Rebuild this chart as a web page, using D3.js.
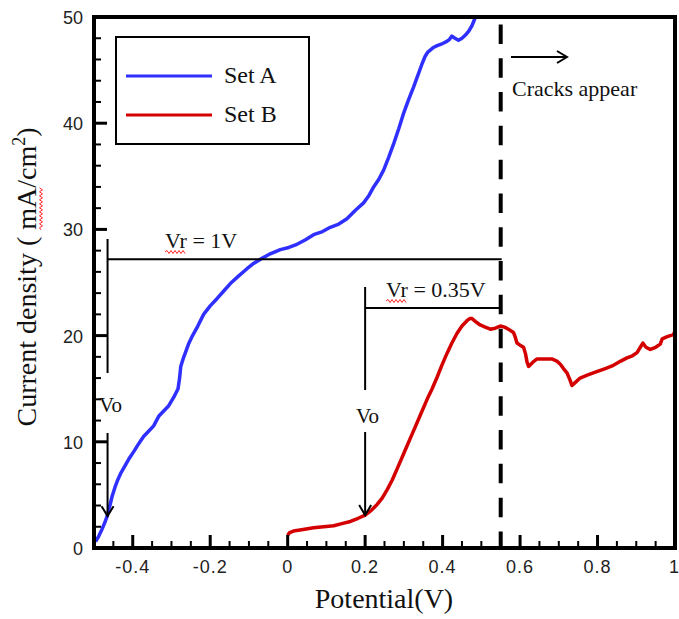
<!DOCTYPE html>
<html>
<head>
<meta charset="utf-8">
<script src="https://cdnjs.cloudflare.com/ajax/libs/d3/7.8.5/d3.min.js"></script>
<style>
  html, body { margin: 0; padding: 0; background: #fff; }
  svg { display: block; }
</style>
</head>
<body>
<svg id="chart" width="679" height="619"></svg>
<script>
// Polarization curves: current density vs. potential
const potentialA = [-0.496, -0.488, -0.479, -0.472, -0.466, -0.459, -0.453, -0.446, -0.440, -0.430,
  -0.419, -0.408, -0.397, -0.385, -0.372, -0.359, -0.346, -0.333, -0.320, -0.307, -0.294, -0.283,
  -0.279, -0.276, -0.270, -0.264, -0.256, -0.247, -0.232, -0.217, -0.200, -0.182, -0.165, -0.148,
  -0.127, -0.105, -0.088, -0.070, -0.045, -0.019, 0.003, 0.024, 0.045, 0.067, 0.090, 0.110, 0.132,
  0.153, 0.175, 0.196, 0.210, 0.222, 0.235, 0.248, 0.261, 0.274, 0.287, 0.299, 0.312, 0.325, 0.337,
  0.347, 0.355, 0.362, 0.375, 0.386, 0.400, 0.411, 0.418, 0.424, 0.432, 0.441, 0.450, 0.459, 0.468,
  0.476, 0.485];
const currentA = [0.6, 1.1, 1.8, 2.4, 3.0, 4.0, 4.9, 5.7, 6.3, 7.1,
  7.8, 8.5, 9.1, 9.8, 10.5, 11.0, 11.5, 12.4, 12.9, 13.4, 14.2, 15.0,
  16.0, 17.1, 17.8, 18.4, 19.2, 19.9, 20.9, 22.0, 22.8, 23.5, 24.2, 24.9,
  25.6, 26.3, 26.8, 27.2, 27.7, 28.1, 28.3, 28.6, 29.0, 29.5, 29.8, 30.2, 30.5,
  31.0, 31.8, 32.5, 33.2, 34.0, 34.7, 35.6, 36.8, 38.1, 39.5, 40.9, 42.2, 43.4, 44.6,
  45.6, 46.3, 46.7, 47.1, 47.3, 47.5, 47.7, 47.9, 48.2, 48.0, 47.8, 48.0, 48.3, 48.7,
  49.2, 50.0];

const potentialB = [0.0, 0.005, 0.015, 0.040, 0.067, 0.093, 0.119, 0.140, 0.162, 0.182,
  0.200, 0.216, 0.231, 0.244, 0.257, 0.270, 0.282, 0.295, 0.308, 0.321, 0.334, 0.347,
  0.360, 0.373, 0.386, 0.398, 0.411, 0.424, 0.437, 0.450, 0.463, 0.470, 0.476, 0.486,
  0.497, 0.510, 0.523, 0.536, 0.549, 0.560, 0.570, 0.583, 0.588, 0.592, 0.600, 0.609,
  0.614, 0.618, 0.622, 0.633, 0.644, 0.660, 0.682, 0.695, 0.704, 0.712, 0.721, 0.728,
  0.734, 0.740, 0.755, 0.775, 0.798, 0.820, 0.841, 0.860, 0.876, 0.890, 0.902, 0.912,
  0.917, 0.925, 0.936, 0.950, 0.962, 0.967, 0.980, 0.996, 1.0];
const currentB = [1.2, 1.45, 1.6, 1.75, 1.9, 2.0, 2.1, 2.3, 2.5, 2.8,
  3.1, 3.55, 4.1, 4.7, 5.5, 6.4, 7.4, 8.5, 9.6, 10.7, 11.8, 12.9,
  14.0, 15.0, 16.1, 17.2, 18.3, 19.3, 20.2, 20.9, 21.4, 21.6, 21.6, 21.3,
  21.0, 20.8, 20.6, 20.7, 20.9, 20.8, 20.6, 20.3, 19.8, 19.3, 19.1, 18.9,
  18.3, 17.5, 17.1, 17.5, 17.8, 17.8, 17.8, 17.6, 17.3, 16.9, 16.5, 15.9,
  15.3, 15.5, 16.0, 16.3, 16.6, 16.9, 17.2, 17.6, 17.9, 18.1, 18.4, 19.0,
  19.3, 18.9, 18.7, 18.9, 19.2, 19.7, 19.9, 20.1, 20.4];

const seriesNames = ["Set A", "Set B"];
const seriesColors = ["#2f2fff", "#d40000"];

const xMajorTicks = [-0.4, -0.2, 0, 0.2, 0.4, 0.6, 0.8, 1];
const xTickLabels = ["-0.4", "-0.2", "0", "0.2", "0.4", "0.6", "0.8", "1"];
const yMajorTicks = [0, 10, 20, 30, 40, 50];
const yTickLabels = ["0", "10", "20", "30", "40", "50"];

// Annotation values
const crackPotential = 0.55;
const vrA = { from: -0.465, level: 27.2, label: "Vr = 1V", tip: 3.0 };
const vrB = { from: 0.2, level: 22.6, label: "Vr = 0.35V", tip: 3.1 };

const svg = d3.select("#chart");
const margin = { left: 94, top: 17, right: 4, bottom: 71 };
const W = 679, H = 619;
const x = d3.scaleLinear().domain([-0.5, 1]).range([margin.left, W - margin.right]);
const y = d3.scaleLinear().domain([0, 50]).range([H - margin.bottom, margin.top]);

const serif = "'Liberation Serif', 'Times New Roman', serif";
const sans = "'Liberation Sans', Arial, sans-serif";

// Data curves
const line = d3.line().x(d => x(d[0])).y(d => y(d[1]));
const dataA = potentialA.map((p, i) => [p, currentA[i]]);
const dataB = potentialB.map((p, i) => [p, currentB[i]]);

svg.append("path").datum(dataB)
  .attr("d", line).attr("fill", "none")
  .attr("stroke", seriesColors[1]).attr("stroke-width", 3.5)
  .attr("stroke-linejoin", "round");
svg.append("path").datum(dataA)
  .attr("d", line).attr("fill", "none")
  .attr("stroke", seriesColors[0]).attr("stroke-width", 3.5)
  .attr("stroke-linejoin", "round");

// Crack onset marker
svg.append("line")
  .attr("x1", x(crackPotential)).attr("x2", x(crackPotential))
  .attr("y1", y(49.3)).attr("y2", y(0))
  .attr("stroke", "#000").attr("stroke-width", 4)
  .attr("stroke-dasharray", "19.5,14.3");

function arrowHead(g, tx, ty, dir) {
  // open chevron arrowhead; dir: "down" or "right"
  const s = 6, l = 10;
  const p = dir === "down"
    ? [[tx - s, ty - l], [tx, ty], [tx + s, ty - l]]
    : [[tx - l, ty - s], [tx, ty], [tx - l, ty + s]];
  g.append("path").attr("d", d3.line()(p))
    .attr("fill", "none").attr("stroke", "#000").attr("stroke-width", 2);
}

function squiggle(g, x0, x1, yy) {
  let d = `M${x0},${yy}`;
  let up = true;
  for (let xx = x0 + 2; xx <= x1; xx += 2) {
    d += `L${xx},${yy + (up ? -1.5 : 1.5)}`;
    up = !up;
  }
  g.append("path").attr("d", d).attr("fill", "none")
    .attr("stroke", "#ff2020").attr("stroke-width", 1);
}

const ann = svg.append("g");

// Vo arrow and Vr bracket for each set
function bracket(v, vTop, vGapTop, vGapBot, labelX, labelY, voX, voY) {
  const px = x(v.from);
  ann.append("line").attr("x1", px).attr("x2", px)
    .attr("y1", vTop).attr("y2", vGapTop)
    .attr("stroke", "#000").attr("stroke-width", 2);
  ann.append("line").attr("x1", px).attr("x2", px)
    .attr("y1", vGapBot).attr("y2", y(v.tip))
    .attr("stroke", "#000").attr("stroke-width", 2);
  arrowHead(ann, px, y(v.tip), "down");
  ann.append("line").attr("x1", px).attr("x2", x(crackPotential) + 1)
    .attr("y1", y(v.level)).attr("y2", y(v.level))
    .attr("stroke", "#000").attr("stroke-width", 2);
  const t = ann.append("text").attr("x", labelX).attr("y", labelY)
    .attr("font-family", serif).attr("font-size", 22).attr("fill", "#111")
    .text(v.label);
  const n = t.node();
  squiggle(ann, n.getStartPositionOfChar(0).x, n.getEndPositionOfChar(1).x, labelY + 4);
  ann.append("text").attr("x", voX).attr("y", voY)
    .attr("font-family", serif).attr("font-size", 21).attr("fill", "#111")
    .text("Vo");
}
bracket(vrA, 239, 373, 433, 165, 248, 99, 412);
bracket(vrB, 287, 390, 432, 386, 297, 356, 423);

// Cracks appear arrow
const arrowY = 57;
ann.append("line").attr("x1", 511).attr("x2", 567).attr("y1", arrowY).attr("y2", arrowY)
  .attr("stroke", "#000").attr("stroke-width", 2);
arrowHead(ann, 567, arrowY, "right");
ann.append("text").attr("x", 512).attr("y", 96)
  .attr("font-family", serif).attr("font-size", 22).attr("fill", "#111")
  .text("Cracks appear");

// Axes: inward ticks, framed box
const axisG = svg.append("g");
const xMinor = d3.range(-0.45, 1.0001, 0.05).filter(v => !xMajorTicks.some(m => Math.abs(m - v) < 1e-6));
const yMinor = d3.range(2, 50, 2).filter(v => v % 10 !== 0);

axisG.selectAll(".xmaj").data(xMajorTicks).enter().append("line")
  .attr("x1", d => x(d)).attr("x2", d => x(d))
  .attr("y1", y(0)).attr("y2", y(0) - 13)
  .attr("stroke", "#000").attr("stroke-width", 3);
axisG.selectAll(".xmin").data(xMinor).enter().append("line")
  .attr("x1", d => x(d)).attr("x2", d => x(d))
  .attr("y1", y(0)).attr("y2", y(0) - 7)
  .attr("stroke", "#000").attr("stroke-width", 2);
axisG.selectAll(".ymaj").data(yMajorTicks).enter().append("line")
  .attr("x1", x(-0.5)).attr("x2", x(-0.5) + 13)
  .attr("y1", d => y(d)).attr("y2", d => y(d))
  .attr("stroke", "#000").attr("stroke-width", 3);
axisG.selectAll(".ymin").data(yMinor).enter().append("line")
  .attr("x1", x(-0.5)).attr("x2", x(-0.5) + 7)
  .attr("y1", d => y(d)).attr("y2", d => y(d))
  .attr("stroke", "#000").attr("stroke-width", 2);

axisG.append("rect")
  .attr("x", x(-0.5)).attr("y", y(50))
  .attr("width", x(1) - x(-0.5)).attr("height", y(0) - y(50))
  .attr("fill", "none").attr("stroke", "#000").attr("stroke-width", 4);

// the last label sits at the right edge of the window, so it is end-anchored
axisG.selectAll(".xl").data(xMajorTicks).enter().append("text")
  .attr("x", (d, i) => i === xMajorTicks.length - 1 ? W : x(d))
  .attr("y", 573)
  .attr("text-anchor", (d, i) => i === xMajorTicks.length - 1 ? "end" : "middle")
  .attr("font-family", sans).attr("font-size", 18).attr("fill", "#222")
  .attr("letter-spacing", (d, i) => i === xMajorTicks.length - 1 ? 0 : 1)
  .text((d, i) => xTickLabels[i]);
axisG.selectAll(".yl").data(yMajorTicks).enter().append("text")
  .attr("x", 83).attr("y", d => y(d) + 7)
  .attr("text-anchor", "end")
  .attr("font-family", sans).attr("font-size", 18).attr("fill", "#222")
  .text((d, i) => yTickLabels[i]);

// Axis titles
svg.append("text").attr("x", 384).attr("y", 608)
  .attr("text-anchor", "middle")
  .attr("font-family", serif).attr("font-size", 28).attr("fill", "#111")
  .text("Potential(V)");

const yTitleG = svg.append("g").attr("transform", "translate(36,277) rotate(-90)");
const yTitle = yTitleG.append("text").attr("x", 0).attr("y", 0)
  .attr("text-anchor", "middle")
  .attr("font-family", serif).attr("font-size", 28).attr("fill", "#111");
yTitle.append("tspan").text("Current density ( mA/cm");
yTitle.append("tspan").attr("font-size", 18).attr("dy", -11).text("2");
yTitle.append("tspan").attr("dy", 11).text(")");
{
  const n = yTitle.node();
  const full = "Current density ( mA/cm";
  const i = full.indexOf("mA");
  squiggle(yTitleG, n.getStartPositionOfChar(i).x, n.getEndPositionOfChar(i + 1).x, 5);
}

// Legend
const lg = svg.append("g");
lg.append("rect").attr("x", 116).attr("y", 37).attr("width", 193).attr("height", 107)
  .attr("fill", "#fff").attr("stroke", "#000").attr("stroke-width", 2);
seriesNames.forEach((name, i) => {
  const yy = 76 + i * 39;
  lg.append("line").attr("x1", 126).attr("x2", 212).attr("y1", yy).attr("y2", yy)
    .attr("stroke", seriesColors[i]).attr("stroke-width", 3);
  lg.append("text").attr("x", 224).attr("y", yy + 7)
    .attr("font-family", serif).attr("font-size", 24).attr("fill", "#111")
    .text(name);
});
</script>
</body>
</html>
